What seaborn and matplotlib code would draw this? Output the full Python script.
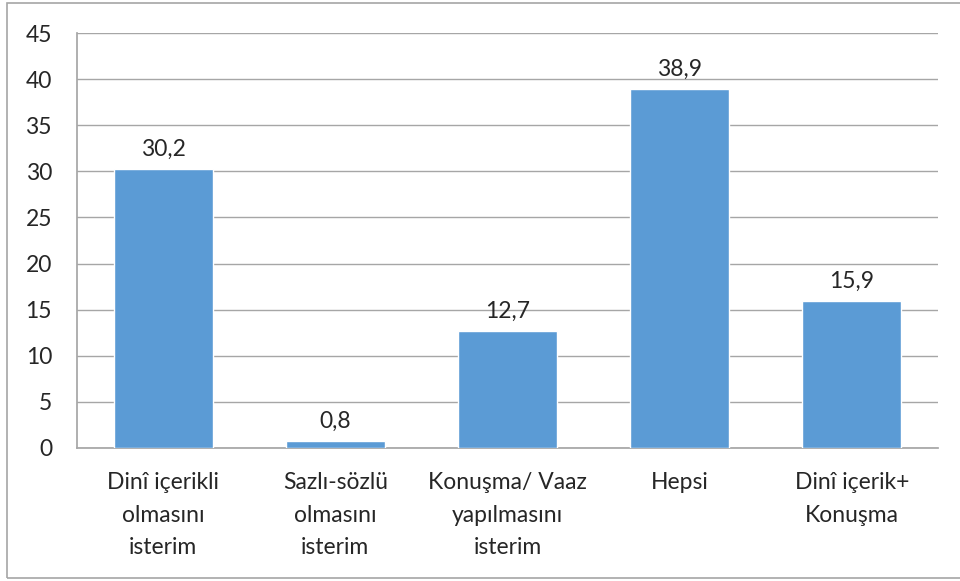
import matplotlib.pyplot as plt
import matplotlib.patches as mpatches
import pandas as pd
import seaborn as sns

categories = ["Dinî içerikli\nolmasını\nisterim", "Sazlı-sözlü\nolmasını\nisterim",
              "Konuşma/ Vaaz\nyapılmasını\nisterim", "Hepsi", "Dinî içerik+\nKonuşma"]
values = [30.2, 0.8, 12.7, 38.9, 15.9]
yticks = [0, 5, 10, 15, 20, 25, 30, 35, 40, 45]

df = pd.DataFrame({"cat": categories, "val": values})

sns.set_theme(style="white")
plt.rcParams['font.family'] = ['Lato', 'DejaVu Sans']

fig = plt.figure(figsize=(9.6, 5.81), dpi=100)
ax = fig.add_axes([77 / 960, 1 - 448 / 581, (938 - 77) / 960, (448 - 33) / 581])

sns.barplot(data=df, x="cat", y="val", color="#5B9BD5", saturation=1, width=0.575, ax=ax, zorder=3)

ax.set_xlim(-0.5, len(categories) - 0.5)
ax.set_ylim(0, 45)
ax.set_yticks(yticks)
ax.set_yticklabels([str(t) for t in yticks], fontsize=16.5)
ax.tick_params(axis="x", labelsize=16.5, pad=17, length=0)
ax.tick_params(axis="y", pad=18, length=0)
ax.yaxis.grid(True, color="#A6A6A6", linewidth=1, zorder=0)
ax.set_xlabel("")
ax.set_ylabel("")
for side in ["top", "right"]:
    ax.spines[side].set_visible(False)
ax.spines["left"].set_color("#A6A6A6")
ax.spines["bottom"].set_color("#A6A6A6")
for lbl in ax.get_xticklabels():
    lbl.set_linespacing(1.7)

for i, v in enumerate(values):
    ax.text(i, v + 1.0, f"{v:.1f}".replace(".", ","), ha="center", va="bottom", fontsize=16.5)

fig.patches.append(mpatches.Rectangle((7 / 960, 3 / 581), 1.0, 575 / 581, transform=fig.transFigure,
                                      fill=False, edgecolor="#A6A6A6", linewidth=1.2))

fig.savefig("out.png", dpi=100)
plt.close(fig)
